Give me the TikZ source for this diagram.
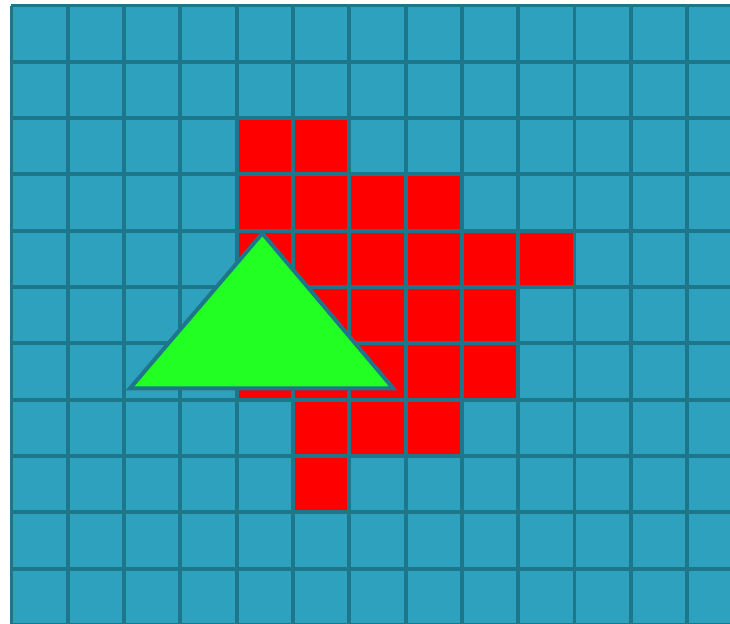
\documentclass[tikz,border=0pt]{standalone}
\usepackage{tikz}

\definecolor{cellblue}{RGB}{46,161,190}
\definecolor{gridline}{RGB}{30,118,138}
\definecolor{hitred}{RGB}{255,0,0}
\definecolor{shapegreen}{RGB}{34,255,34}

\begin{document}
\begin{tikzpicture}[x=1cm,y=-1cm]

% Parameters
\def\nc{13}   % number of columns
\def\nr{11}   % number of rows
\def\lw{2pt}  % grid line width

% Frame with the margins
\useasboundingbox (-0.204,-0.098) rectangle (12.762,10.968);
\clip (-0.204,-0.098) rectangle (12.762,10.968);

% Background cells
\fill[cellblue] (0,0) rectangle (\nc,\nr);

% Cells hit by the triangle (column/row)
\foreach \c/\r in {4/2,5/2,
                   4/3,5/3,6/3,7/3,
                   4/4,5/4,6/4,7/4,8/4,9/4,
                   4/5,5/5,6/5,7/5,8/5,
                   4/6,5/6,6/6,7/6,8/6,
                   5/7,6/7,7/7,
                   5/8}
  \fill[hitred] (\c,\r) rectangle ++(1,1);

% Grid lines
\foreach \i in {0,...,\nc}
  \draw[gridline, line width=\lw] (\i,0) -- (\i,\nr);
\foreach \j in {0,...,\nr}
  \draw[gridline, line width=\lw] (0,\j) -- (\nc,\j);

% Triangle
\coordinate (A) at (4.455,4.046);
\coordinate (B) at (2.105,6.80);
\coordinate (C) at (6.78,6.80);
\filldraw[fill=shapegreen, draw=gridline, line width=\lw] (A) -- (B) -- (C) -- cycle;

\end{tikzpicture}
\end{document}
